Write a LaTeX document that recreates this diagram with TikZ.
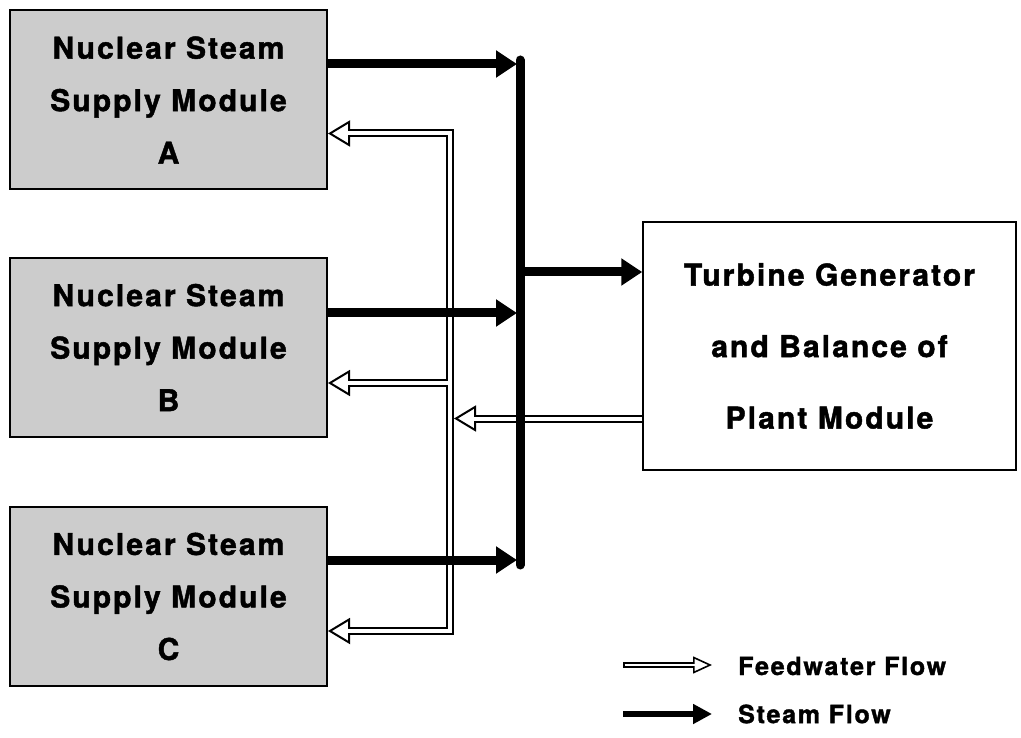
\documentclass[tikz,border=0pt]{standalone}
\usepackage{fontspec}
\setmainfont{TeX Gyre Heros}
\newfontfamily\hv[LetterSpace=7,FakeBold=1.5]{TeX Gyre Heros}
\usetikzlibrary{arrows.meta}
\tikzset{
  fwtip/.tip={Triangle[open,line width=2pt,length=22pt,width=26pt]},
  fwtipsmall/.tip={Triangle[open,line width=1.6pt,length=19pt,width=17pt]},
  sttip/.tip={Triangle[length=21pt,width=26pt]},
  sttipsmall/.tip={Triangle[length=19pt,width=19pt]},
}
\begin{document}
\begin{tikzpicture}[x=1pt,y=-1pt,
  module/.style={draw=black, line width=2pt, fill=black!20, minimum width=317pt,
    minimum height=179pt, inner sep=0pt, align=center,
    font=\hv\bfseries\fontsize{30}{52.5}\selectfont},
  plant/.style={draw=black, line width=1.5pt, fill=white, minimum width=373pt,
    minimum height=248pt, inner sep=0pt, align=center,
    font=\hv\bfseries\fontsize{30}{71.5}\selectfont},
  legendtext/.style={anchor=west, inner sep=0pt,
    font=\hv\bfseries\fontsize{25}{30}\selectfont},
  steam/.style={line width=9pt, -sttip},
  bus/.style={line width=9pt, line cap=round},
  fwout/.style={draw=black, line width=8pt, line join=miter},
  fwin/.style={draw=white, line width=4pt, line join=miter},
]
\useasboundingbox (0,0) rectangle (1021,738);

% modules
\node[module] (A) at (168.5,100) {Nuclear Steam\\Supply Module\\A};
\node[module] (B) at (168.5,347.5) {Nuclear Steam\\Supply Module\\B};
\node[module] (C) at (168.5,596.5) {Nuclear Steam\\Supply Module\\C};
\node[plant] (T) at (829.5,346) {Turbine Generator\\and Balance of\\Plant Module};

% coordinates
\coordinate (fa) at (450,133.5);
\coordinate (fb) at (450,383);
\coordinate (fc) at (450,631);
\coordinate (ft) at (454,418.5);
\coordinate (sa) at (517,64);
\coordinate (sb) at (517,313);
\coordinate (sc) at (517,560);
\coordinate (bt) at (520,60);
\coordinate (bb) at (520,565);
\coordinate (so) at (520,272);

% feedwater: outer (black) pass
\draw[fwout, fwtip-fwtip] (A.east |- fa) -- (fa) -- (fc) -- (C.east |- fc);
\draw[fwout, -fwtip] (fb) -- (B.east |- fb);
\draw[fwout, -fwtip] (T.west |- ft) -- (ft);
% feedwater: inner (white) pass
\draw[fwin, shorten <=11pt, shorten >=11pt] (A.east |- fa) -- (fa) -- (fc) -- (C.east |- fc);
\draw[fwin, shorten >=11pt] (fb) -- (B.east |- fb);
\draw[fwin, shorten >=11pt] (T.west |- ft) -- (ft);

% steam
\draw[steam] (A.east |- sa) -- (sa);
\draw[steam] (B.east |- sb) -- (sb);
\draw[steam] (C.east |- sc) -- (sc);
\draw[bus] (bt) -- (bb);
\draw[steam] (so) -- (T.west |- so);

% legend
\node[legendtext] (lf) at (738,666) {Feedwater Flow};
\node[legendtext] (ls) at (738,714) {Steam Flow};
\coordinate (lf1) at (623,665);
\coordinate (lf2) at (712,665);
\coordinate (ls1) at (623,714);
\coordinate (ls2) at (712,714);
\draw[draw=black, line width=6pt, -fwtipsmall] (lf1) -- (lf2);
\draw[draw=white, line width=2.5pt, shorten >=9pt, shorten <=1.5pt] (lf1) -- (lf2);
\draw[line width=6pt, -sttipsmall] (ls1) -- (ls2);
\end{tikzpicture}
\end{document}
